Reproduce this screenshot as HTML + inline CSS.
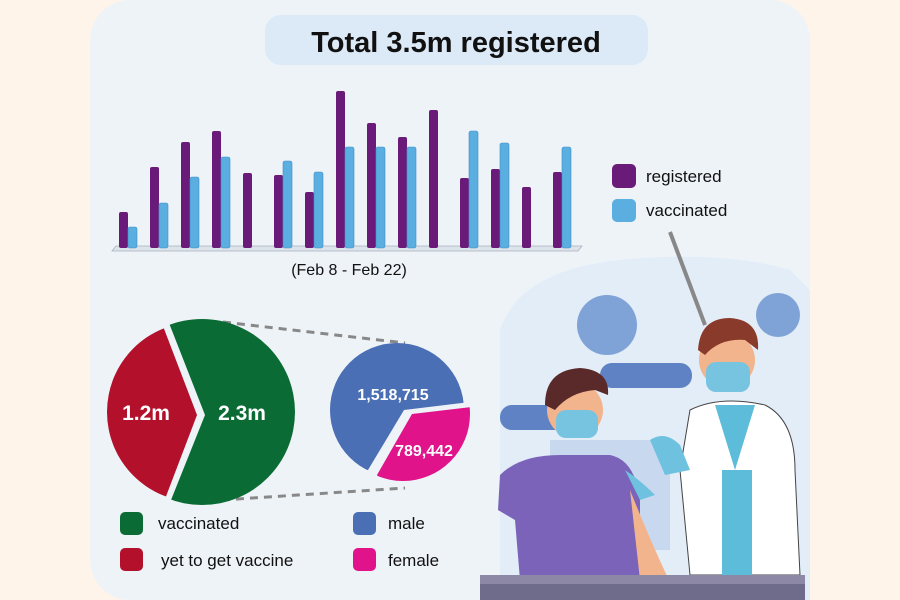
<!DOCTYPE html>
<html><head><meta charset="utf-8"><style>
html,body{margin:0;padding:0;background:#fef4ea;}
svg{display:block;font-family:"Liberation Sans",sans-serif;}
</style></head><body>
<svg width="900" height="600" viewBox="0 0 900 600" xmlns="http://www.w3.org/2000/svg">
<rect x="0" y="0" width="900" height="600" fill="#fef4ea"/>
<rect x="90" y="0" width="720" height="600" rx="40" fill="#eef3f8"/>
<path d="M500 330 Q520 270 620 260 Q720 250 790 270 L810 290 L810 600 L500 600 Z" fill="#e3edf8"/>
<rect x="265" y="15" width="383" height="50" rx="16" fill="#dce9f6"/>
<text x="456" y="52" text-anchor="middle" font-size="29" font-weight="bold" fill="#111">Total 3.5m registered</text>
<polygon points="112,251 578,251 582,246 116,246" fill="#dde3ea" stroke="#aab3bd" stroke-width="0.8"/>
<g fill="#6a1b7a">
<rect x="119" y="212" width="9" height="36" rx="2"/>
<rect x="150" y="167" width="9" height="81" rx="2"/>
<rect x="181" y="142" width="9" height="106" rx="2"/>
<rect x="212" y="131" width="9" height="117" rx="2"/>
<rect x="243" y="173" width="9" height="75" rx="2"/>
<rect x="274" y="175" width="9" height="73" rx="2"/>
<rect x="305" y="192" width="9" height="56" rx="2"/>
<rect x="336" y="91" width="9" height="157" rx="2"/>
<rect x="367" y="123" width="9" height="125" rx="2"/>
<rect x="398" y="137" width="9" height="111" rx="2"/>
<rect x="429" y="110" width="9" height="138" rx="2"/>
<rect x="460" y="178" width="9" height="70" rx="2"/>
<rect x="491" y="169" width="9" height="79" rx="2"/>
<rect x="522" y="187" width="9" height="61" rx="2"/>
<rect x="553" y="172" width="9" height="76" rx="2"/>
</g>
<g fill="#5aaee0" stroke="#3f8fc6" stroke-width="0.6">
<rect x="128" y="227" width="9" height="21" rx="2"/>
<rect x="159" y="203" width="9" height="45" rx="2"/>
<rect x="190" y="177" width="9" height="71" rx="2"/>
<rect x="221" y="157" width="9" height="91" rx="2"/>
<rect x="283" y="161" width="9" height="87" rx="2"/>
<rect x="314" y="172" width="9" height="76" rx="2"/>
<rect x="345" y="147" width="9" height="101" rx="2"/>
<rect x="376" y="147" width="9" height="101" rx="2"/>
<rect x="407" y="147" width="9" height="101" rx="2"/>
<rect x="469" y="131" width="9" height="117" rx="2"/>
<rect x="500" y="143" width="9" height="105" rx="2"/>
<rect x="562" y="147" width="9" height="101" rx="2"/>
</g>
<text x="349" y="275" text-anchor="middle" font-size="16" fill="#111">(Feb 8 - Feb 22)</text>
<rect x="612" y="164" width="24" height="24" rx="5" fill="#6a1b7a"/>
<text x="646" y="182" font-size="17" fill="#111">registered</text>
<rect x="612" y="199" width="24" height="23" rx="5" fill="#5aaee0"/>
<text x="646" y="216" font-size="17" fill="#111">vaccinated</text>
<line x1="670" y1="232" x2="705" y2="325" stroke="#888" stroke-width="4"/>
<line x1="223" y1="322" x2="405" y2="343" stroke="#888" stroke-width="3" stroke-dasharray="8,6"/>
<line x1="222" y1="500" x2="405" y2="488" stroke="#888" stroke-width="3" stroke-dasharray="8,6"/>
<defs>
<clipPath id="cg"><polygon points="160,300 205,415 163,520 320,520 320,300"/></clipPath>
<clipPath id="cr"><polygon points="153,300 197,415 157,520 90,520 90,300"/></clipPath>
<clipPath id="cb"><polygon points="300,300 470,300 470,402 404,410 368,470 300,500"/></clipPath>
<clipPath id="cp"><polygon points="480,406 412,414 377,475 400,520 480,520"/></clipPath>
</defs>
<circle cx="202" cy="412" r="93" fill="#0b6b34" clip-path="url(#cg)"/>
<circle cx="197" cy="412" r="90" fill="#b2102b" clip-path="url(#cr)"/>
<text x="146" y="420" text-anchor="middle" font-size="21" font-weight="bold" fill="#fff">1.2m</text>
<text x="242" y="420" text-anchor="middle" font-size="21" font-weight="bold" fill="#fff">2.3m</text>
<circle cx="397" cy="410" r="67" fill="#4a6fb5" clip-path="url(#cb)"/>
<circle cx="403" cy="414" r="67" fill="#e0138a" clip-path="url(#cp)"/>
<text x="393" y="400" text-anchor="middle" font-size="16" font-weight="bold" fill="#fff">1,518,715</text>
<text x="424" y="456" text-anchor="middle" font-size="16" font-weight="bold" fill="#fff">789,442</text>
<rect x="120" y="512" width="23" height="23" rx="5" fill="#0b6b34"/>
<text x="158" y="529" font-size="17" fill="#111">vaccinated</text>
<rect x="120" y="548" width="23" height="23" rx="5" fill="#b2102b"/>
<text x="161" y="566" font-size="17" fill="#111">yet to get vaccine</text>
<rect x="353" y="512" width="23" height="23" rx="5" fill="#4a6fb5"/>
<text x="388" y="529" font-size="17" fill="#111">male</text>
<rect x="353" y="548" width="23" height="23" rx="5" fill="#e0138a"/>
<text x="388" y="566" font-size="17" fill="#111">female</text>
<g fill="#7fa3d6">
<circle cx="607" cy="325" r="30"/>
<circle cx="778" cy="315" r="22"/>
</g>
<rect x="600" y="363" width="92" height="25" rx="12" fill="#5f82c4"/>
<rect x="500" y="405" width="80" height="25" rx="12" fill="#5f82c4"/>
<rect x="550" y="440" width="120" height="110" fill="#c8d8ef"/>
<circle cx="575" cy="410" r="28" fill="#f2b48c"/>
<path d="M545 405 Q545 370 580 368 Q610 370 608 395 L595 390 Q570 392 555 410 Z" fill="#5a2a2a"/>
<rect x="556" y="410" width="42" height="28" rx="10" fill="#77c4e0"/>
<path d="M500 475 Q520 455 560 455 L610 455 Q635 460 640 500 L640 580 L520 580 L515 520 L498 510 Z" fill="#7a63b8"/>
<path d="M630 490 Q650 540 668 578 L640 580 Z" fill="#f2b48c"/>
<circle cx="727" cy="360" r="28" fill="#f2b48c"/>
<path d="M698 350 Q700 318 730 318 Q760 320 758 350 L745 340 Q720 338 705 355 Z" fill="#8a3a2a"/>
<rect x="706" y="362" width="44" height="30" rx="10" fill="#77c4e0"/>
<path d="M690 410 Q720 395 765 405 Q795 420 795 470 L800 575 L690 575 L680 470 Z" fill="#ffffff" stroke="#444" stroke-width="1"/>
<path d="M715 405 L735 470 L755 405 Z" fill="#5cbcd9"/>
<rect x="722" y="470" width="30" height="105" fill="#5cbcd9"/>
<path d="M650 440 Q665 430 680 445 L690 470 L665 475 Z" fill="#6fc1e0"/>
<path d="M625 470 Q640 480 655 495 L640 500 Z" fill="#6fc1e0"/>
<rect x="480" y="575" width="325" height="25" fill="#6f6b8a"/>
<rect x="480" y="575" width="325" height="9" fill="#8c88a6"/>
</svg>
</body></html>
